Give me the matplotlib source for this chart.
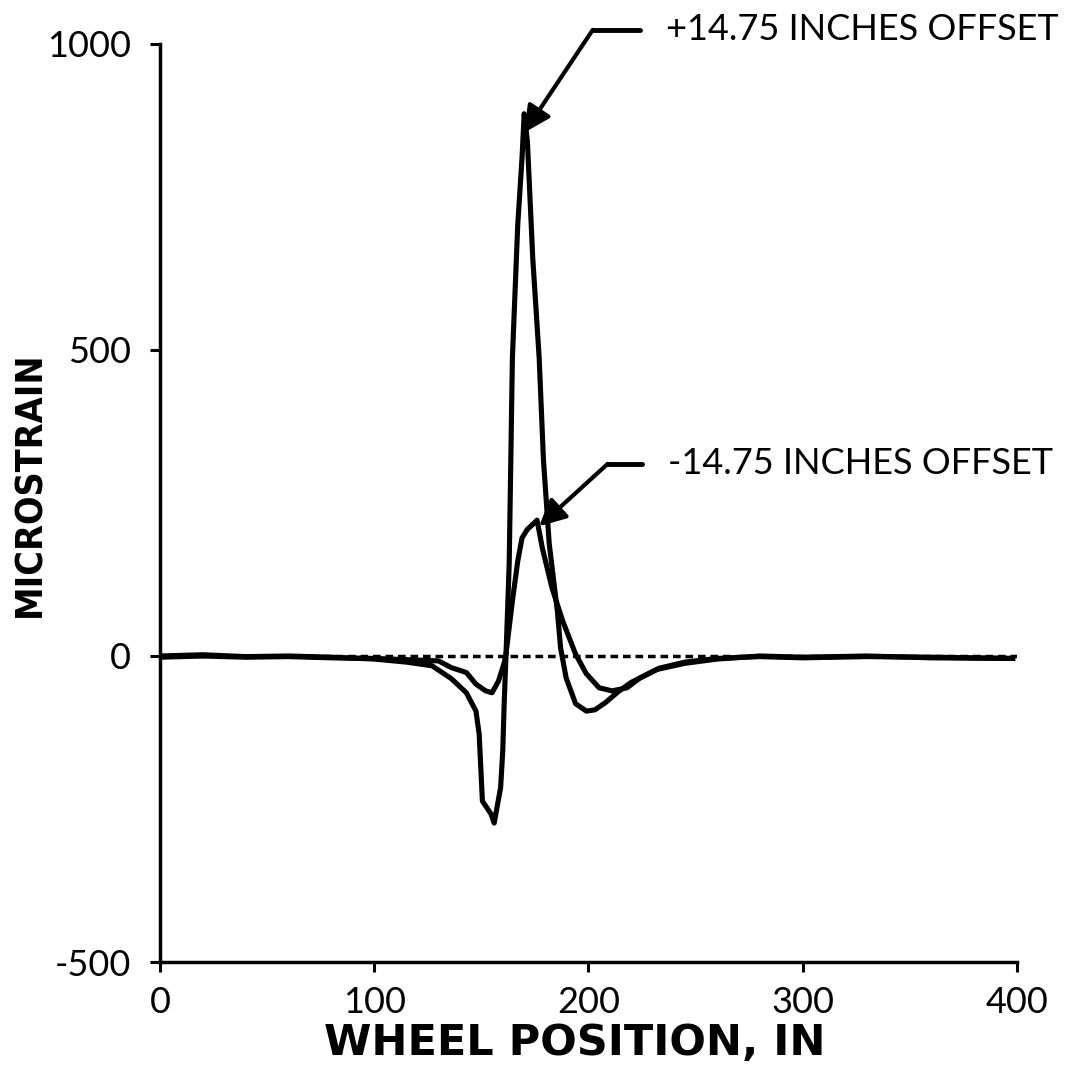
import matplotlib
matplotlib.use('Agg')
import matplotlib.pyplot as plt
import numpy as np

# Fonts: humanist face for numbers / notes, bold grotesque for axis titles
plt.rcParams['font.family'] = ['Lato', 'DejaVu Sans']
plt.rcParams['axes.unicode_minus'] = False
label_font = ['DejaVu Sans']

# Strain under the wheel, +14.75 in offset gauge
pos_x = [0, 20, 40, 60, 80, 100, 115, 127, 136, 143, 147.5, 149, 150.5, 154.5,
         156, 159, 160, 160.7, 161.5, 163, 164.5, 167, 169, 170, 171.5, 174, 177,
         179, 181.7, 185.5, 187, 189.6, 194, 199, 203, 208, 214, 220, 232, 245,
         260, 280, 300, 330, 360, 398]
pos_y = [0, 2, -1, 0, -2, -5, -10, -16, -37, -60, -90, -128, -237, -258,
         -273, -215, -155, -74, 0, 150, 487, 705, 814, 886, 841, 650, 487,
         320, 183, 73, 13, -36, -78, -90, -88, -76, -58, -43, -22, -12,
         -5, 0, -2, 0, -3, -4]

# Strain under the wheel, -14.75 in offset gauge
neg_x = [0, 20, 40, 60, 80, 100, 115, 130, 136, 143, 147.5, 152, 155, 158,
         160.7, 161.5, 164.5, 167, 169, 171.5, 174, 176, 178.5, 183, 188, 194,
         199, 205, 211, 218, 224, 233, 245, 260, 280, 300, 330, 360, 398]
neg_y = [-2, 0, -2, -1, -3, -4, -6, -8, -19, -27, -46, -57, -60, -41,
         -11, 3, 90, 155, 193, 207, 215, 222, 176, 111, 57, 3,
         -29, -52, -57, -52, -36, -20, -10, -4, -1, -3, -1, -2, -4]

x_ticks = [0, 100, 200, 300, 400]
y_ticks = [-500, 0, 500, 1000]

fig = plt.figure(figsize=(10.75, 10.67), dpi=100)
ax = fig.add_axes([0.1488, 0.0984, 0.7972, 0.8604])

ax.axhline(0, color='black', lw=2.5, linestyle=(0, (2.2, 1.4)), zorder=1)
ax.plot(pos_x, pos_y, color='black', lw=3.7, solid_joinstyle='round', zorder=3)
ax.plot(neg_x, neg_y, color='black', lw=3.7, solid_joinstyle='round', zorder=3)

# Leader arrows with labels
notes = [((170, 855), (202, 1023), 224, '+14.75 INCHES OFFSET'),
         ((177, 212), (209, 314), 225, '-14.75 INCHES OFFSET')]
for tip, elbow, stub_end, text in notes:
    ax.annotate('', xy=tip, xytext=elbow, annotation_clip=False,
                arrowprops=dict(arrowstyle='-|>,head_length=0.8,head_width=0.4',
                                color='black', lw=3, shrinkA=0, shrinkB=0,
                                mutation_scale=20))
    ax.plot([elbow[0], stub_end], [elbow[1], elbow[1]], color='black', lw=3.5,
            solid_capstyle='round', clip_on=False)
    ax.text(stub_end + 12, elbow[1], text, ha='left', va='center',
            fontsize=26, color='black', clip_on=False)

ax.set_xlim(0, 400)
ax.set_ylim(-500, 1000)
ax.set_xticks(x_ticks)
ax.set_yticks(y_ticks)
ax.tick_params(axis='both', direction='out', length=7, width=2.2,
               labelsize=26, colors='black')
ax.tick_params(axis='y', pad=14)
ax.tick_params(axis='x', pad=10)

for side in ['top', 'right']:
    ax.spines[side].set_visible(False)
for side in ['left', 'bottom']:
    ax.spines[side].set_linewidth(2.5)

ax.set_xlabel('WHEEL POSITION, IN', family=label_font, fontweight='bold',
              fontsize=31, va='center')
ax.xaxis.set_label_coords(0.484, -0.088)
ax.set_ylabel('MICROSTRAIN', family=label_font, fontweight='bold',
              fontstretch='condensed', fontsize=27)
ax.yaxis.set_label_coords(-0.13, 0.52)

fig.savefig('out.png', dpi=100, facecolor='white')
